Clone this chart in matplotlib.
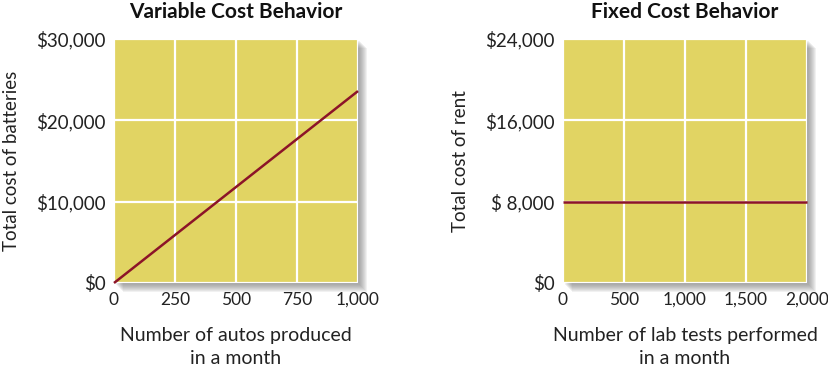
import matplotlib
matplotlib.use("Agg")
import matplotlib.pyplot as plt
from matplotlib.patches import Rectangle
from matplotlib.ticker import FixedLocator

plt.rcParams['font.family'] = ['Lato', 'DejaVu Sans']

# Data
var_x = [0, 1000]
var_y = [0, 23600]
var_xticks = [0, 250, 500, 750, 1000]
var_xlabels = ["0", "250", "500", "750", "1,000"]
var_yticks = [0, 10000, 20000, 30000]
var_ylabels = ["$0", "$10,000", "$20,000", "$30,000"]

fix_x = [0, 2000]
fix_y = [8000, 8000]
fix_xticks = [0, 500, 1000, 1500, 2000]
fix_xlabels = ["0", "500", "1,000", "1,500", "2,000"]
fix_yticks = [0, 8000, 16000, 24000]
fix_ylabels = ["$0", "$ 8,000", "$16,000", "$24,000"]

W, H = 829, 372
fig = plt.figure(figsize=(W/100, H/100), dpi=100)
fig.patch.set_facecolor("white")

YELLOW = "#E1D463"
LINE = "#8C1428"

def add_shadow(x0, y0, w, h):
    steps = 8
    for i in range(steps):
        off = 2 + i
        r = Rectangle(((x0 + off)/W, (H - (y0 + h) - off)/H), w/W, h/H,
                      transform=fig.transFigure, facecolor="#6a6a6a",
                      alpha=0.09, edgecolor="none", zorder=0)
        fig.patches.append(r)

def panel(x0, y0, w, h, xs, ys, xt, xl, yt, yl, xlim, ylim, title, ylabel, xlabel, ylx):
    add_shadow(x0, y0, w, h)
    ax = fig.add_axes([x0/W, (H - y0 - h)/H, w/W, h/H], zorder=2)
    ax.set_facecolor(YELLOW)
    ax.set_xlim(*xlim)
    ax.set_ylim(*ylim)
    ax.xaxis.set_major_locator(FixedLocator(xt))
    ax.yaxis.set_major_locator(FixedLocator(yt))
    ax.set_xticklabels(xl, fontsize=12.5, color="#222222")
    ax.set_yticklabels(yl, fontsize=13.5, color="#222222")
    ax.tick_params(axis="y", length=0, pad=6)
    ax.tick_params(axis="x", length=0, pad=6.5)
    ax.grid(True, color="white", linewidth=1.6)
    ax.set_axisbelow(True)
    for s in ax.spines.values():
        s.set_visible(False)
    ax.plot(xs, ys, color=LINE, linewidth=1.8, solid_capstyle="butt", zorder=3, clip_on=False)
    fig.text((x0 + w/2)/W, 1 - 12/H, title, fontsize=15, fontweight="bold",
             color="#111111", ha="center", va="center")
    fig.text(ylx/W, 1 - (y0 + h/2)/H, ylabel, fontsize=13.5, color="#222222",
             rotation=90, ha="center", va="center")
    fig.text((x0 + w/2)/W, 1 - 336/H, xlabel.split("\n")[0], fontsize=14,
             color="#222222", ha="center", va="center")
    fig.text((x0 + w/2)/W, 1 - 359/H, xlabel.split("\n")[1], fontsize=14,
             color="#222222", ha="center", va="center")
    return ax

panel(114, 39, 244, 244, var_x, var_y, var_xticks, var_xlabels, var_yticks, var_ylabels,
      (0, 1000), (0, 30000), "Variable Cost Behavior", "Total cost of batteries",
      "Number of autos produced\nin a month", 12)
panel(563, 39, 244, 244, fix_x, fix_y, fix_xticks, fix_xlabels, fix_yticks, fix_ylabels,
      (0, 2000), (0, 24000), "Fixed Cost Behavior", "Total cost of rent",
      "Number of lab tests performed\nin a month", 461)

fig.savefig("out.png", dpi=100, facecolor="white")
